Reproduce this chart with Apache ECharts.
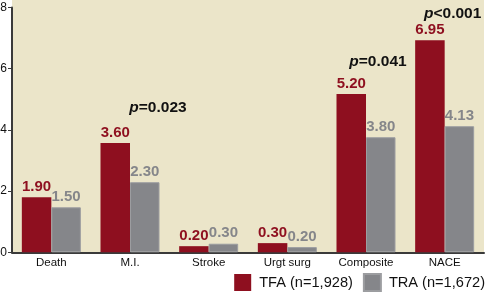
<!DOCTYPE html>
<html><head><meta charset="utf-8">
<script src="https://cdn.jsdelivr.net/npm/echarts@6/dist/echarts.min.js"></script>
<style>html,body{margin:0;padding:0;background:#fff}#c{width:486px;height:295px}</style>
</head><body><div id="c"></div>
<script>
const categories = ['Death', 'M.I.', 'Stroke', 'Urgt surg', 'Composite', 'NACE'];
const tfaValues = [1.80, 3.57, 0.20, 0.30, 5.17, 6.93];
const traValues = [1.47, 2.29, 0.28, 0.17, 3.76, 4.12];
const tfaLabels = ['1.90', '3.60', '0.20', '0.30', '5.20', '6.95'];
const traLabels = ['1.50', '2.30', '0.30', '0.20', '3.80', '4.13'];
const seriesNames = ['TFA (n=1,928)', 'TRA (n=1,672)'];
const yTicks = [0, 2, 4, 6, 8];
const pValues = [
  { cat: 'M.I.', op: '=', val: '0.023' },
  { cat: 'Composite', op: '=', val: '0.041' },
  { cat: 'NACE', op: '<', val: '0.001' }
];

const NARROW = '"Liberation Sans Narrow","Liberation Sans",Arial,sans-serif';
const RED = '#8e0f1f', GRAY = '#85868a', BEIGE = '#ebe5c9', AXIS = '#3a3a3a';

const chart = echarts.init(document.getElementById('c'), null, { renderer: 'canvas' });
const GL = 12, GR = 2, GT = 7.5, GB = 42.7;

function mkLabel(labels, color, dist) {
  return {
    show: true, position: 'top', distance: dist,
    formatter: p => labels[p.dataIndex],
    color: color, fontFamily: NARROW, fontWeight: 'bold', fontSize: 15
  };
}
const bg = {
  type: 'rect', z: -10, silent: true,
  shape: { x: GL, y: 0, width: 486 - GL - GR, height: 295 - GB },
  style: { fill: BEIGE }
};

chart.setOption({
  animation: false,
  grid: { left: GL, right: GR, top: GT, bottom: GB, containLabel: false, outerBoundsMode: 'none' },
  graphic: [bg],
  legend: {
    data: seriesNames, right: 1, bottom: 3, itemWidth: 17, itemHeight: 17, itemGap: 10,
    padding: 0, icon: 'rect',
    textStyle: { fontFamily: '"Liberation Sans",Arial,sans-serif', fontSize: 14.6, color: '#111', padding: [0, 0, 0, 3] }
  },
  xAxis: {
    type: 'category', data: categories,
    axisLine: { lineStyle: { color: AXIS, width: 2 } },
    axisTick: { show: false },
    axisLabel: { color: '#111', fontFamily: NARROW, fontSize: 11.5, margin: 5 }
  },
  yAxis: {
    type: 'value', min: yTicks[0], max: yTicks[yTicks.length - 1], interval: 2,
    axisLine: { show: true, lineStyle: { color: AXIS, width: 2 } },
    axisTick: { show: true, length: 4, lineStyle: { color: AXIS, width: 1 } },
    splitLine: { show: false },
    axisLabel: { color: '#111', fontFamily: NARROW, fontSize: 12, margin: 5 }
  },
  series: [
    {
      name: seriesNames[0], type: 'bar', data: tfaValues, barWidth: 29.5, barGap: '0%',
      itemStyle: { color: RED }, label: mkLabel(tfaLabels, RED, 3)
    },
    {
      name: seriesNames[1], type: 'bar', data: traValues, barWidth: 29.5,
      itemStyle: { color: GRAY, borderColor: '#9c9da0', borderWidth: 1 },
      label: mkLabel(traLabels, GRAY, 3)
    }
  ]
});

// p-value annotations, placed relative to their category group
const pOffsets = { 'M.I.': [28, 108], 'Composite': [12, 61.5], 'NACE': [8, 13.5] };
const gfx = [bg];
pValues.forEach(pv => {
  const cx = chart.convertToPixel({ xAxisIndex: 0 }, pv.cat);
  const o = pOffsets[pv.cat];
  gfx.push({
    type: 'text', z: 100, x: cx + o[0], y: o[1],
    style: {
      text: '{p|p}{v|' + pv.op + pv.val + '}',
      align: 'center', verticalAlign: 'middle',
      rich: {
        p: { fontFamily: NARROW, fontStyle: 'italic', fontWeight: 'bold', fontSize: 15.5, fill: '#111' },
        v: { fontFamily: NARROW, fontWeight: 'bold', fontSize: 15.5, fill: '#111' }
      }
    }
  });
});
chart.setOption({ graphic: gfx }, { replaceMerge: ['graphic'] });
</script></body></html>
